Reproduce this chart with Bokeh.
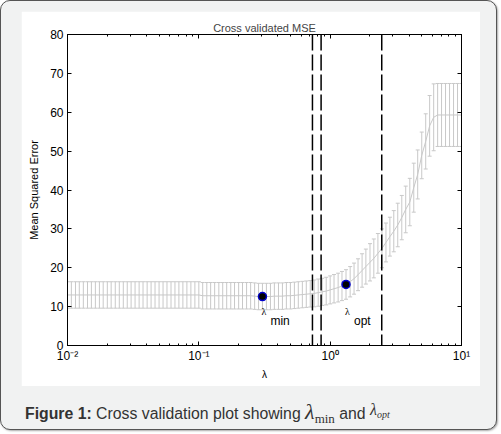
from bokeh.plotting import figure
from bokeh.models import (ColumnDataSource, Whisker, TeeHead, Span, LogAxis, LinearAxis,
                          FixedTicker, CustomJSTickFormatter, Div)
from bokeh.layouts import column
from bokeh.embed import file_html
from bokeh.resources import INLINE
from bokeh.core.properties import value

# ---------------- data ----------------
lam = [0.0100, 0.0107, 0.0115, 0.0123, 0.0132, 0.0142, 0.0152, 0.0163, 0.0175, 0.0187,
       0.0201, 0.0215, 0.0231, 0.0248, 0.0266, 0.0285, 0.0305, 0.0327, 0.0351, 0.0376,
       0.0404, 0.0433, 0.0464, 0.0498, 0.0534, 0.0572, 0.0614, 0.0658, 0.0705, 0.0756,
       0.0811, 0.0870, 0.0933,
       0.100, 0.107, 0.115, 0.123, 0.132, 0.142, 0.152, 0.163, 0.175, 0.187,
       0.201, 0.215, 0.231, 0.248, 0.266, 0.285, 0.305, 0.327, 0.351, 0.376,
       0.404, 0.433, 0.464, 0.498, 0.534, 0.572, 0.614, 0.658, 0.705, 0.756,
       0.811, 0.870, 0.933,
       1.00, 1.07, 1.15, 1.23, 1.32, 1.42, 1.52, 1.63, 1.75, 1.87,
       2.01, 2.15, 2.31, 2.48, 2.66, 2.85, 3.05, 3.27, 3.51, 3.76,
       4.04, 4.33, 4.64, 4.98, 5.34, 5.72, 6.14, 6.58, 7.05, 7.56,
       8.11, 8.70, 9.33, 10.0]

mse = ([13.0] * 34 +
       [12.8] * 13 +
       [12.7, 12.6, 12.6, 12.6, 12.6, 12.7] +
       [12.7, 12.7, 12.8, 12.8, 12.9, 13.0, 13.1, 13.2, 13.3] +
       [13.4, 13.6, 13.8, 14.0, 14.3, 14.6, 14.9, 15.3] +
       [15.7, 16.4, 17.2, 18.2, 19.3, 20.3, 21.4, 22.4, 23.7, 25.0, 26.5, 28.0,
        29.4, 31.0, 32.9, 35.0, 36.9, 40.6, 44.0, 48.9, 52.5, 56.5, 58.7] +
       [59.3] * 7)

se = ([3.4] * 62 +
      [3.45, 3.5, 3.5, 3.55, 3.6, 3.65, 3.7, 3.75] +
      [3.8, 3.9, 4.0, 4.1, 4.3, 4.5, 4.8, 5.0, 5.1, 5.0, 5.0, 5.0,
       5.3, 5.6, 5.7, 6.0, 6.1, 6.3, 6.3, 6.0, 7.1, 7.8, 8.6] +
      [8.1] * 7)

point_lam = [0.305, 1.32]
point_mse = [12.6, 15.7]
point_sub = ["min", "opt"]
vline_lam = [0.733, 0.853, 2.47]

x_major = [0.01, 0.1, 1, 10]
x_labels = {0.01: "10⁻²", 0.1: "10⁻¹", 1: "10⁰", 10: "10¹"}
y_major = [0, 10, 20, 30, 40, 50, 60, 70, 80]

# ---------------- figure ----------------
FONT = "Liberation Sans"
GRAY = "#c8c8c8"

p = figure(width=459, height=375, x_axis_type="log", x_range=(0.01, 10), y_range=(0, 80),
           output_backend="svg", toolbar_location=None, title="Cross validated MSE",
           min_border_left=46, min_border_right=19, min_border_top=23, min_border_bottom=41)
p.margin = (10, 0, 0, 20)
p.background_fill_color = "white"
p.border_fill_color = "white"
p.outline_line_color = "black"
p.grid.visible = False

p.title.text_font = FONT
p.title.text_font_size = "11px"
p.title.text_font_style = "normal"
p.title.align = "center"
p.title.standoff = 2

minor = [m * d for d in [0.01, 0.1, 1] for m in range(2, 10)]

xa = p.xaxis[0]
xa.ticker = FixedTicker(ticks=x_major, minor_ticks=minor)
xa.major_label_overrides = x_labels
ya = p.yaxis[0]
ya.ticker = FixedTicker(ticks=y_major)

for ax in (xa, ya):
    ax.major_tick_in = 4
    ax.major_tick_out = 0
    ax.minor_tick_in = 2
    ax.minor_tick_out = 0
    ax.axis_line_color = "black"
    ax.major_tick_line_color = "black"
    ax.minor_tick_line_color = "black"
    ax.major_label_text_font = FONT
    ax.major_label_text_font_size = "12px"
    ax.major_label_text_color = "black"
    ax.axis_label_text_font = FONT
    ax.axis_label_text_font_style = "normal"
    ax.axis_label_text_color = "black"
ya.minor_tick_line_color = None
ya.major_label_standoff = 4
xa.major_label_standoff = 3
ya.axis_label = "Mean Squared Error"
ya.axis_label_text_font_size = "11px"
ya.axis_label_standoff = 7
xa.axis_label = "λ"
xa.axis_label_text_font_size = "10px"
xa.axis_label_standoff = 3

blank = CustomJSTickFormatter(code="return ''")
top = LogAxis(ticker=FixedTicker(ticks=x_major, minor_ticks=minor), formatter=blank,
              major_tick_in=4, major_tick_out=0,
              minor_tick_in=2, minor_tick_out=0, major_label_standoff=0)
right = LinearAxis(ticker=FixedTicker(ticks=y_major), formatter=blank,
                   major_tick_in=4, major_tick_out=0,
                   minor_tick_line_color=None, major_label_standoff=0)
p.add_layout(top, "above")
p.add_layout(right, "right")

src = ColumnDataSource(dict(lam=lam, mse=mse,
                            upper=[m + s for m, s in zip(mse, se)],
                            lower=[m - s for m, s in zip(mse, se)]))

p.add_layout(Whisker(base="lam", upper="upper", lower="lower", source=src,
                     line_color=GRAY, line_width=1,
                     upper_head=TeeHead(size=4, line_color=GRAY, line_width=1),
                     lower_head=TeeHead(size=4, line_color=GRAY, line_width=1)))
p.line("lam", "mse", source=src, line_color=GRAY, line_width=1)

for v in vline_lam:
    p.add_layout(Span(location=v, dimension="height", line_color="black",
                      line_dash="16 4", line_width=1.5))

p.scatter(point_lam, point_mse, size=8, fill_color="black", line_color="#0000cc",
          line_width=1.5)

label_y = [8.7] * len(point_lam)
p.text(point_lam, label_y, text=["λ"] * len(point_lam), text_font=value("Liberation Serif"),
       text_font_size="10px", text_color="black", text_align="left",
       text_baseline="middle", x_offset=-1)
p.text(point_lam, label_y, text=point_sub, text_font=value(FONT),
       text_font_size="12px", text_color="black", text_align="left",
       text_baseline="middle", x_offset=8, y_offset=9)

cap = Div(text=('<b>Figure 1:</b> Cross validation plot showing '
                '<span style="font-family:\'Liberation Serif\';font-style:italic;font-size:22px">λ</span>'
                '<span style="font-family:\'Liberation Serif\';font-size:13px;position:relative;top:4px">min</span>'
                ' and '
                '<span style="font-family:\'Liberation Serif\';font-style:italic;font-size:16px;position:relative;top:-4px">λ</span>'
                '<span style="font-family:\'Liberation Serif\';font-style:italic;font-size:10px;position:relative;top:-1px">opt</span>'),
          width=460, height=26, margin=(13, 0, 0, 24),
          styles={"font-family": FONT, "font-size": "15.8px", "color": "#333",
                  "line-height": "26px"})

layout = column(p, cap, width=497, height=430,
                styles={"background-color": "#f1f2f2", "border": "1px solid #555",
                        "border-radius": "10px", "box-shadow": "1px 1px 2px #aaa"})

open("out.html", "w").write(file_html(layout, INLINE))
